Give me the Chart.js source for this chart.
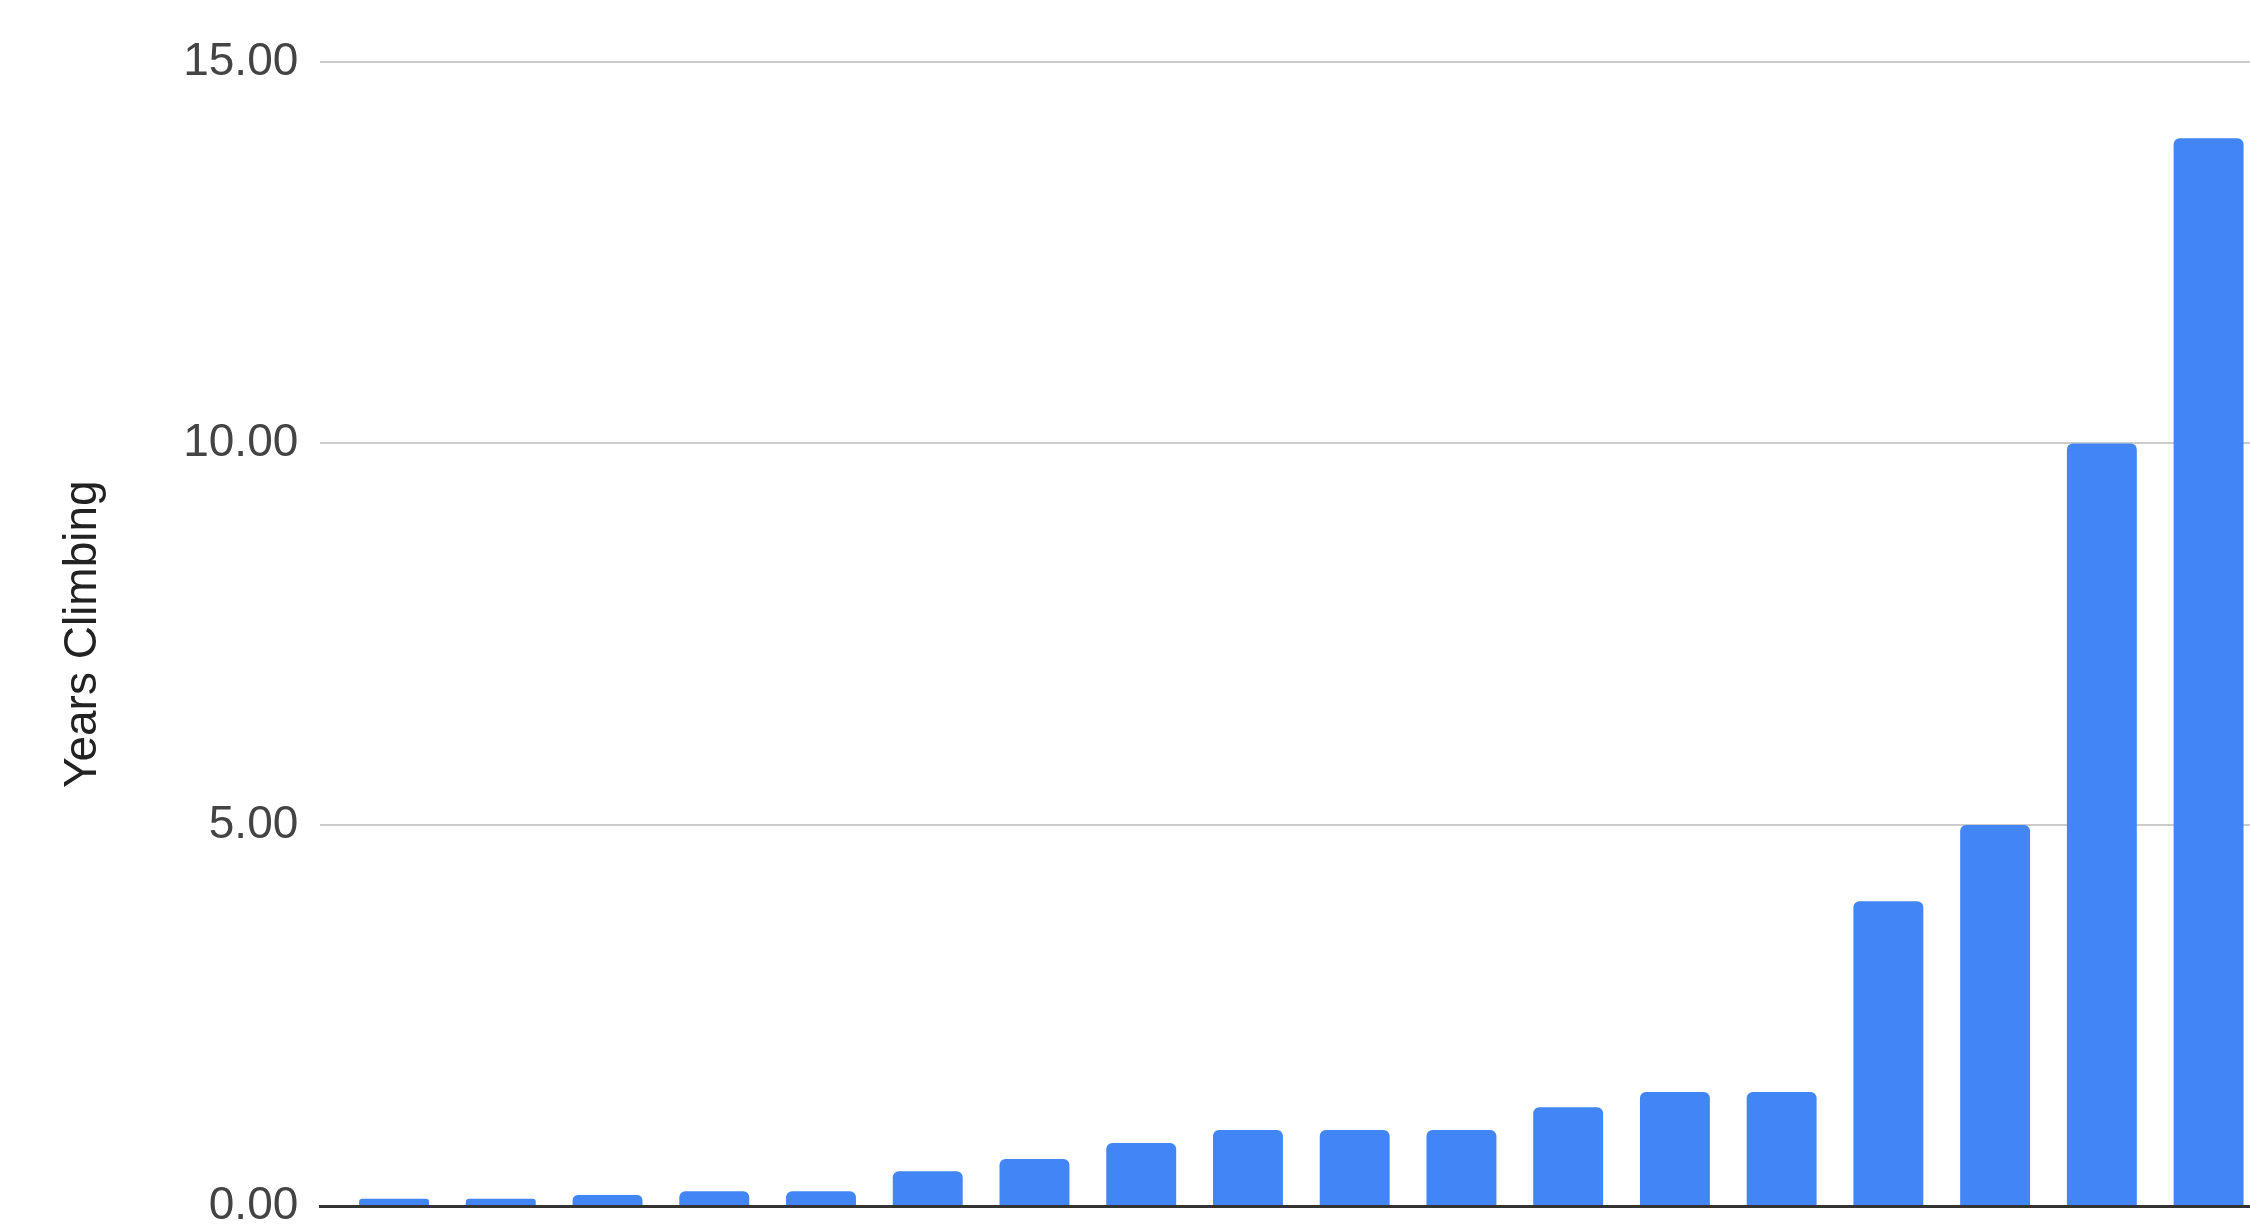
<!DOCTYPE html>
<html>
<head>
<meta charset="utf-8">
<title>Years Climbing</title>
<script src="https://cdn.jsdelivr.net/npm/chart.js@4.4.1/dist/chart.umd.min.js"></script>
<style>
    html, body {
        margin: 0;
        padding: 0;
        background: #ffffff;
        overflow: hidden;
    }
    #wrap {
        width: 2250px;
        height: 1256px;
    }
</style>
</head>
<body>
<div id="wrap"><canvas id="years-chart"></canvas></div>
<script>
// Data (one bar per climber, sorted)
const climbers = [1, 2, 3, 4, 5, 6, 7, 8, 9, 10, 11, 12, 13, 14, 15, 16, 17, 18];
const yearsClimbing = [0.1, 0.1, 0.15, 0.2, 0.2, 0.46, 0.62, 0.83, 1, 1, 1, 1.3, 1.5, 1.5, 4, 5, 10, 14];
const yTicks = [0, 5, 10, 15];

const ctx = document.getElementById("years-chart").getContext("2d");

let chart = new Chart(ctx, {
    type: 'bar',
    data: {
        datasets: [{
            label: 'Years Climbing',
            data: climbers.map((c, i) => ({ x: c, y: yearsClimbing[i] })),
            backgroundColor: '#4285F4',
            borderRadius: 6,
            borderSkipped: 'start',
            categoryPercentage: 1,
            barPercentage: 0.655
        }]
    },
    options: {
        responsive: true,
        maintainAspectRatio: false,
        animation: false,
        layout: {
            padding: { top: 62, right: 0, bottom: 33, left: 0 }
        },
        plugins: {
            legend: { display: false },
            tooltip: { enabled: false }
        },
        scales: {
            x: {
                type: 'linear',
                min: 0.309,
                max: 18.388,
                afterBuildTicks: (scale) => { scale.ticks = []; },
                ticks: { display: false },
                grid: { display: false, drawTicks: false },
                border: { display: true, color: '#333333', width: 3, z: 1 }
            },
            y: {
                min: yTicks[0],
                max: yTicks[yTicks.length - 1],
                afterBuildTicks: (scale) => {
                    scale.ticks = yTicks.map(v => ({ value: v }));
                },
                ticks: {
                    padding: 22,
                    color: '#444444',
                    font: { family: "'Liberation Sans', Arial, sans-serif", size: 46 },
                    callback: (v) => Number(v).toFixed(2)
                },
                grid: {
                    color: '#cccccc',
                    lineWidth: 2,
                    drawTicks: false
                },
                border: { display: false },
                title: {
                    display: true,
                    text: 'Years Climbing',
                    color: '#222222',
                    font: { family: "'Liberation Sans', Arial, sans-serif", size: 46 },
                    padding: { top: 56, bottom: 50 }
                }
            }
        }
    }
});
</script>
</body>
</html>
